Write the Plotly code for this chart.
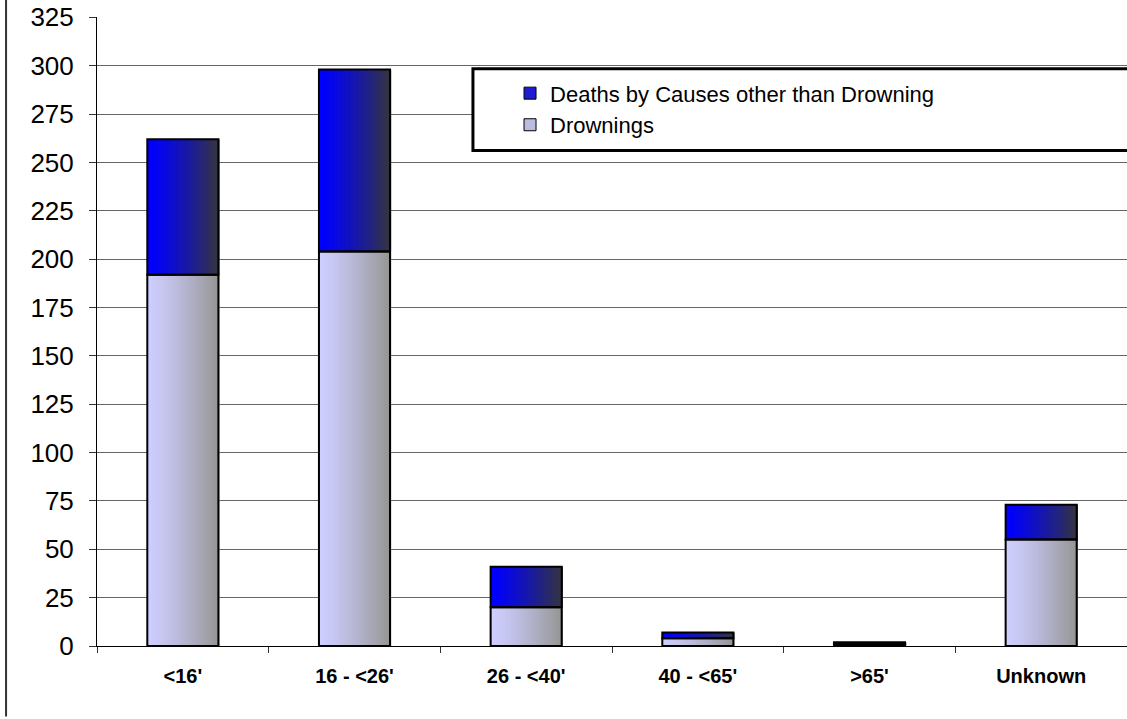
import plotly.graph_objects as go

# Boating fatalities by vessel length
categories = ["<16'", "16 - <26'", "26 - <40'", "40 - <65'", ">65'", "Unknown"]
drownings = [192, 204, 20, 4, 1, 55]
other_deaths = [70, 94, 21, 3, 1, 18]

series_names = ["Deaths by Causes other than Drowning", "Drownings"]
y_ticks = list(range(0, 326, 25))

FONT = "Arial, Liberation Sans, sans-serif"
BAR_W = 0.414
N_STRIPS = 36

# horizontal gradient end colours (left -> right)
other_grad = ((0, 0, 255), (52, 52, 66))
drown_grad = ((206, 206, 255), (150, 150, 150))


def mix(c0, c1, t):
    return "rgb(%d,%d,%d)" % tuple(round(a + (b - a) * t) for a, b in zip(c0, c1))


fig = go.Figure()

bases_other = drownings
strip = BAR_W / N_STRIPS
for series, base, grad in ((drownings, [0] * len(categories), drown_grad),
                           (other_deaths, bases_other, other_grad)):
    for i in range(N_STRIPS):
        t = i / (N_STRIPS - 1)
        fig.add_trace(go.Bar(
            x=categories, y=series, base=base,
            width=strip * 1.6, offset=-BAR_W / 2 + i * strip,
            marker=dict(color=mix(grad[0], grad[1], t ** 1.25), line=dict(width=0)),
            showlegend=False, hoverinfo="skip",
        ))

# segment outlines
for series, base in ((drownings, [0] * len(categories)), (other_deaths, bases_other)):
    fig.add_trace(go.Bar(
        x=categories, y=series, base=base, width=BAR_W,
        marker=dict(color="rgba(0,0,0,0)", line=dict(color="black", width=2)),
        showlegend=False, hoverinfo="skip",
    ))

# legend entries
for name, color in zip(series_names, ("#1c1cd2", "#bcbce0")):
    fig.add_trace(go.Bar(
        x=[categories[0]], y=[None], name=name,
        marker=dict(color=color, line=dict(color="black", width=1)),
    ))

fig.update_layout(
    width=1127, height=719,
    margin=dict(l=97, r=0, t=17, b=73),
    paper_bgcolor="white", plot_bgcolor="white",
    barmode="overlay",
    font=dict(family=FONT, color="black"),
    showlegend=True,
    legend=dict(
        x=0.401, xanchor="left", y=0.912, yanchor="top",
        bgcolor="rgba(0,0,0,0)", borderwidth=0,
        font=dict(family=FONT, size=22, color="black"),
        traceorder="normal", tracegroupgap=0,
    ),
    xaxis=dict(
        type="category", range=[-0.5, 5.5],
        showgrid=False, showline=True, linecolor="black", linewidth=1,
        ticks="outside", tickson="boundaries", ticklen=6, tickcolor="#333",
        tickfont=dict(family=FONT, size=20, color="black", weight="bold"),
        ticklabelstandoff=12,
    ),
    yaxis=dict(
        range=[0, 325.2], tickvals=y_ticks,
        showgrid=True, gridcolor="#666666", gridwidth=1,
        showline=True, linecolor="black", linewidth=1,
        ticks="outside", ticklen=7, tickcolor="#333",
        tickfont=dict(family=FONT, size=26, color="black"),
        ticklabelstandoff=10, zeroline=False,
    ),
    shapes=[
        # legend frame
        dict(type="rect", xref="paper", yref="paper",
             x0=0.365, x1=1.05, y0=0.7877, y1=0.9177,
             line=dict(color="black", width=3), fillcolor="white", layer="above"),
        # chart area border
        dict(type="line", xref="paper", yref="paper",
             x0=-0.0883, x1=-0.0883, y0=-0.112, y1=1.03,
             line=dict(color="#333", width=2)),
    ],
)

fig.write_html("out.html")
